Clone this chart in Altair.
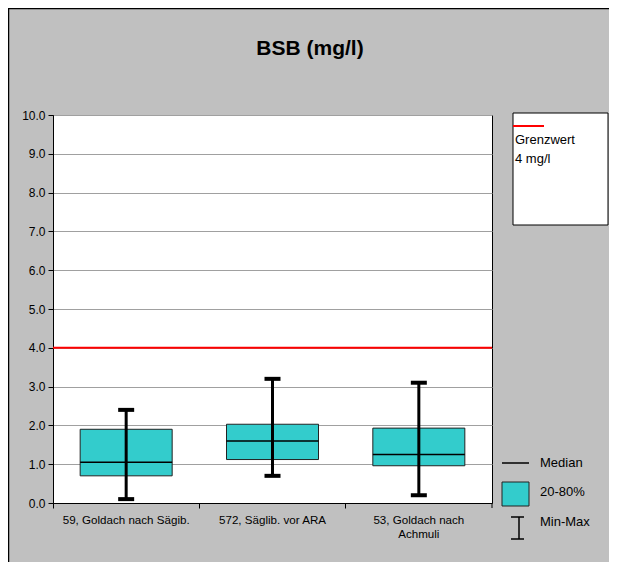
import altair as alt
import pandas as pd

# ---- data ----
categories = ["59, Goldach nach Sägib.", "572, Säglib. vor ARA", "53, Goldach nach Achmuli"]
p20 = [0.70, 1.12, 0.96]
p80 = [1.90, 2.03, 1.93]
median = [1.05, 1.60, 1.25]
vmin = [0.10, 0.70, 0.20]
vmax = [2.40, 3.20, 3.10]
limit_value = [4.0]
y_ticks = [0, 1, 2, 3, 4, 5, 6, 7, 8, 9, 10]
title_text = "BSB (mg/l)"
legend_limit = ["Grenzwert", "4 mg/l"]
legend_items = ["Median", "20-80%", "Min-Max"]

df = pd.DataFrame({"cat": categories, "p20": p20, "p80": p80, "median": median,
                   "vmin": vmin, "vmax": vmax})

FONT = "Liberation Sans"
W, H = 439, 388
BOX_FILL = "#33cccc"

x_scale = alt.Scale(domain=categories, paddingInner=0, paddingOuter=0)
x_axis = alt.Axis(title=None, labelAngle=0, bandPosition=0, tickSize=5, labelPadding=6,
                  grid=False, domainColor="black", tickColor="black", labelColor="black",
                  labelFont=FONT, labelFontSize=11.6, labelLimit=200, labelLineHeight=14,
                  labelExpr="datum.label == '53, Goldach nach Achmuli' ? ['53, Goldach nach', 'Achmuli'] : datum.label")
y_scale = alt.Scale(domain=[0, 10], nice=False, zero=True)
y_axis = alt.Axis(title=None, values=y_ticks, format=".1f", tickSize=5, labelPadding=3,
                  grid=True, gridColor="#a0a0a0", gridWidth=1, domainColor="black",
                  tickColor="black", labelColor="black", labelFont=FONT, labelFontSize=12)

X = alt.X("cat:N", sort=categories, scale=x_scale, axis=x_axis)

def Y(field):
    return alt.Y(f"{field}:Q", scale=y_scale, axis=y_axis)

base = alt.Chart(df)

boxes = base.mark_bar(width=92, fill=BOX_FILL, stroke="#222222", strokeWidth=1, opacity=1).encode(
    x=X, y=Y("p20"), y2="p80")
meds = base.mark_tick(size=92, thickness=1.5, color="black", orient="horizontal", opacity=1).encode(
    x=X, y=Y("median"))
whisk = base.mark_rule(color="black", strokeWidth=3).encode(x=X, y=Y("vmin"), y2="vmax")
cap_lo = base.mark_tick(size=16, thickness=4, color="black", orient="horizontal", opacity=1).encode(
    x=X, y=Y("vmin"))
cap_hi = base.mark_tick(size=16, thickness=4, color="black", orient="horizontal", opacity=1).encode(
    x=X, y=Y("vmax"))

limit = alt.Chart(pd.DataFrame({"v": limit_value})).mark_rule(
    color="#ff0000", strokeWidth=2).encode(y=Y("v"))

one = pd.DataFrame({"a": [0]})
deco = alt.Chart(one)

# right end tick of x axis
end_tick = deco.mark_rule(color="black").encode(
    x=alt.value(W), y=alt.value(H), y2=alt.value(H + 5))

# outer border (top and left visible)
border_left = deco.mark_rule(color="black", strokeWidth=1.5).encode(
    x=alt.value(-44.5), y=alt.value(-107), y2=alt.value(448))
border_top = deco.mark_rule(color="black", strokeWidth=1.5).encode(
    x=alt.value(-45), x2=alt.value(556), y=alt.value(-106.5))

title = deco.mark_text(font=FONT, fontSize=21, fontWeight="bold", color="black",
                       align="center", baseline="middle").encode(
    x=alt.value(257), y=alt.value(-66), text=alt.value(title_text))

# limit legend box
lim_box = deco.mark_rect(fill="white", stroke="black", strokeWidth=1).encode(
    x=alt.value(460), x2=alt.value(555), y=alt.value(-2), y2=alt.value(110))
lim_line = deco.mark_rule(color="#ff0000", strokeWidth=2).encode(
    x=alt.value(460), x2=alt.value(491), y=alt.value(11))
lim_t1 = deco.mark_text(font=FONT, fontSize=13, align="left", baseline="middle", color="black").encode(
    x=alt.value(462), y=alt.value(25), text=alt.value(legend_limit[0]))
lim_t2 = deco.mark_text(font=FONT, fontSize=13, align="left", baseline="middle", color="black").encode(
    x=alt.value(462), y=alt.value(44), text=alt.value(legend_limit[1]))

# bottom legend
lg_med = deco.mark_rule(color="black", strokeWidth=1.5).encode(
    x=alt.value(449), x2=alt.value(476), y=alt.value(348))
lg_box = deco.mark_rect(fill=BOX_FILL, stroke="#222222", strokeWidth=1).encode(
    x=alt.value(449), x2=alt.value(476), y=alt.value(367), y2=alt.value(391))
lg_iv = deco.mark_rule(color="black", strokeWidth=1.5).encode(
    x=alt.value(466), y=alt.value(402), y2=alt.value(424))
lg_it = deco.mark_rule(color="black", strokeWidth=1.5).encode(
    x=alt.value(458), x2=alt.value(471), y=alt.value(402))
lg_ib = deco.mark_rule(color="black", strokeWidth=1.5).encode(
    x=alt.value(458), x2=alt.value(471), y=alt.value(424))
lg_texts = [
    deco.mark_text(font=FONT, fontSize=13, align="left", baseline="middle", color="black").encode(
        x=alt.value(487), y=alt.value(yy), text=alt.value(t))
    for t, yy in zip(legend_items, [348, 377, 407])
]

chart = alt.layer(
    boxes, meds, whisk, cap_lo, cap_hi, limit, end_tick,
    border_left, border_top, title,
    lim_box, lim_line, lim_t1, lim_t2,
    lg_med, lg_box, lg_iv, lg_it, lg_ib, *lg_texts
).properties(
    width=W, height=H,
    padding={"left": 45, "top": 107, "right": 117, "bottom": 59},
    autosize=alt.AutoSizeParams(type="none"),
    background="#c0c0c0",
).configure_view(stroke="black", strokeWidth=1, fill="white")

chart.save("out.html", embed_options={"renderer": "svg", "actions": False})
